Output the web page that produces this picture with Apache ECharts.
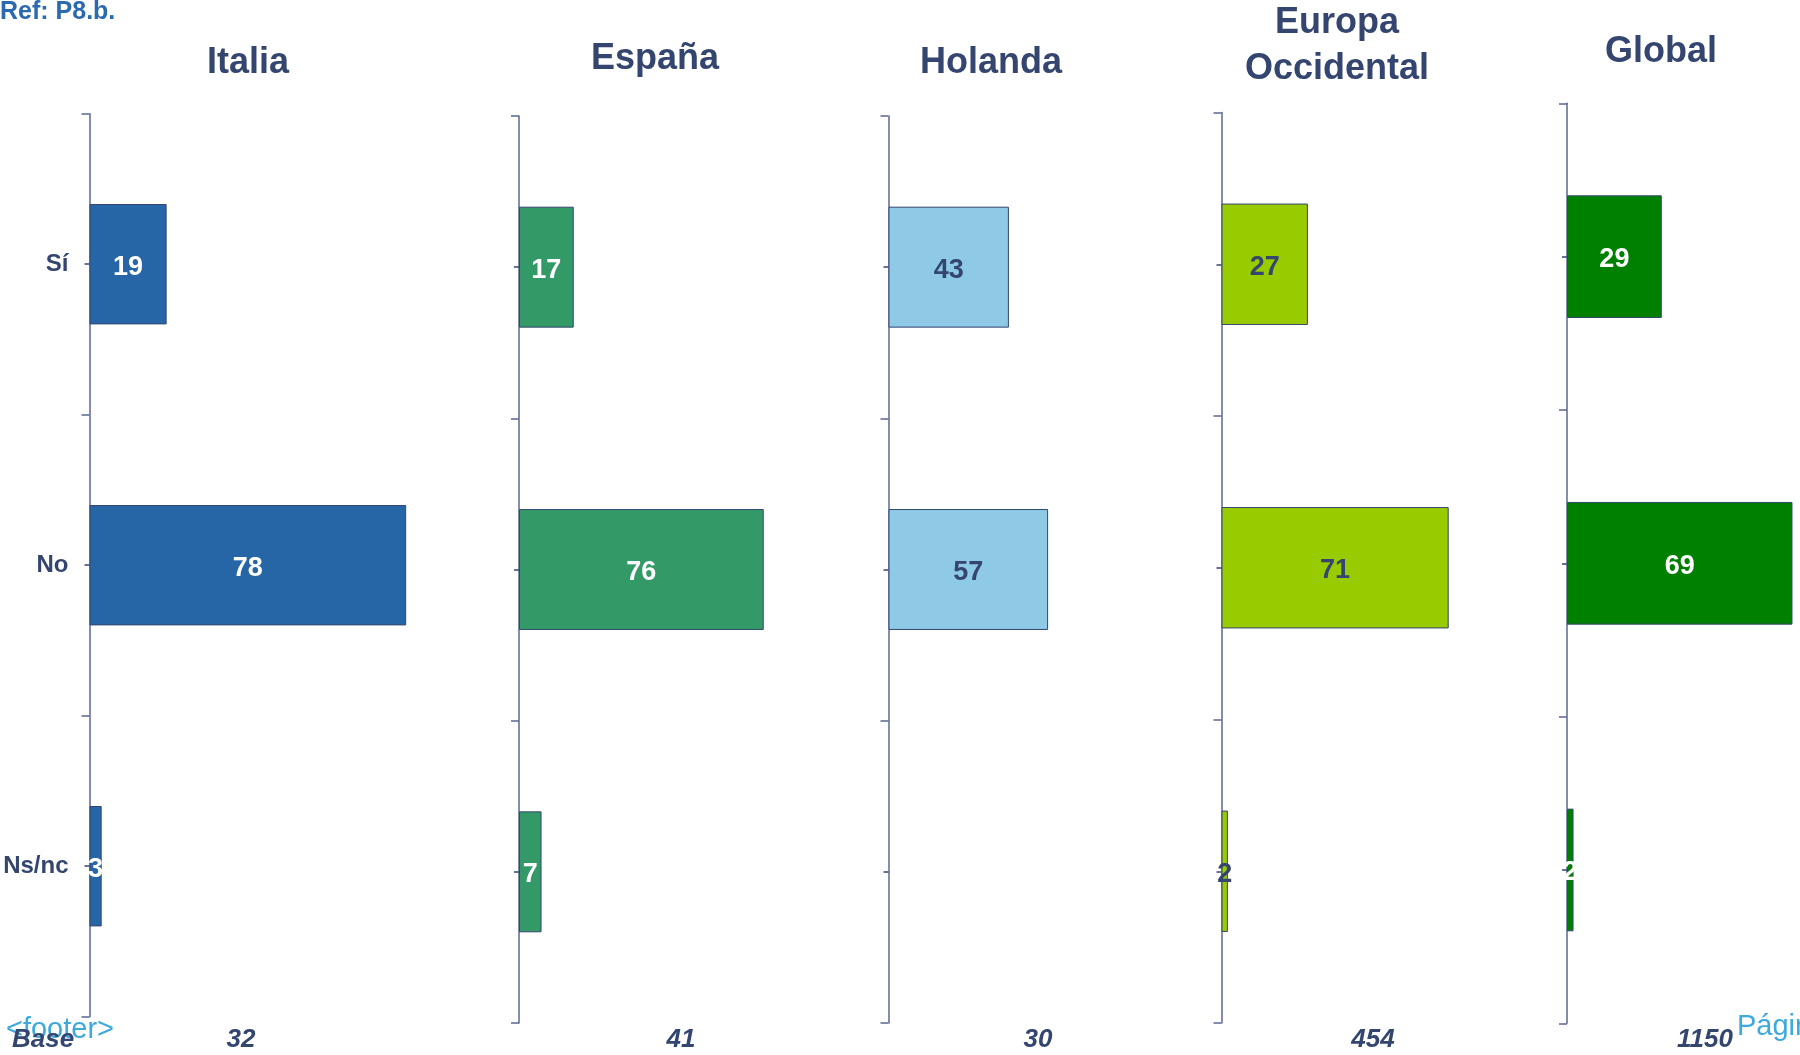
<!DOCTYPE html>
<html>
<head>
<meta charset="utf-8">
<script src="https://cdn.jsdelivr.net/npm/echarts@6/dist/echarts.min.js"></script>
<style>
  html, body { margin: 0; padding: 0; background: #fff; }
  #chart { width: 1800px; height: 1055px; }
</style>
</head>
<body>
<div id="chart"></div>
<script>
// data
var categories = ['Sí', 'No', 'Ns/nc'];
var panelNames = ['Italia', 'España', 'Holanda', 'Europa\nOccidental', 'Global'];
var italia = [19, 78, 3];
var espana = [17, 76, 7];
var holanda = [43, 57, 0];
var europa = [27, 71, 2];
var global = [29, 69, 2];
var bases = ['32', '41', '30', '454', '1150'];

var seriesData = [italia, espana, holanda, europa, global];
var colors = ['#2766A6', '#339966', '#8ECAE6', '#99CC00', '#008000'];
var labelColors = ['#fff', '#fff', '#34466F', '#34466F', '#fff'];

// layout of each small chart (px); the last one runs off the page,
// so its axis max is scaled to the visible part
var grids = [
  { left: 89.5, top: 113.7, width: 406, height: 903, max: 100 },
  { left: 519, top: 116, width: 322, height: 907, max: 100 },
  { left: 888.5, top: 116, width: 280, height: 907, max: 100 },
  { left: 1221.5, top: 112.5, width: 320, height: 910.5, max: 100 },
  { left: 1567, top: 103.3, width: 233, height: 920, max: 71.3 }
];
var titlePos = [[248, 63], [655, 59], [991, 63], [1337, 46], [1661, 52]];
var basePos = [241, 681, 1038, 1373, 1705];

var navy = '#34466F';
var font = 'Liberation Sans, Arial, sans-serif';

var myChart = echarts.init(document.getElementById('chart'));

var option = {
  backgroundColor: '#fff',
  animation: false,
  grid: [],
  xAxis: [],
  yAxis: [],
  series: [],
  graphic: []
};

grids.forEach(function(g, i) {
  option.grid.push({ left: g.left, top: g.top, width: g.width, height: g.height, containLabel: false });
  option.xAxis.push({
    type: 'value', gridIndex: i, min: 0, max: g.max, show: false
  });
  // main axis with boundary ticks
  option.yAxis.push({
    type: 'category',
    gridIndex: i,
    position: 'left',
    inverse: true,
    data: categories,
    axisLine: { show: true, lineStyle: { color: '#5B6890', width: 1.5 } },
    axisTick: { show: true, length: 8, lineStyle: { color: '#5B6890', width: 1.5 } },
    axisLabel: {
      show: i === 0,
      margin: 21,
      color: navy,
      fontFamily: font,
      fontWeight: 'bold',
      fontSize: 24,
      padding: [4, 0, 0, 0]
    },
    splitLine: { show: false }
  });
  // second axis only for the small ticks at category centers
  option.yAxis.push({
    type: 'category',
    gridIndex: i,
    position: 'left',
    inverse: true,
    data: categories,
    axisLine: { show: false },
    axisTick: { show: true, alignWithLabel: true, length: 5, lineStyle: { color: navy, width: 1.5 } },
    axisLabel: { show: false },
    splitLine: { show: false }
  });
  option.series.push({
    type: 'bar',
    xAxisIndex: i,
    yAxisIndex: i * 2,
    barWidth: '40%',
    data: seriesData[i].map(function(v) {
      return v === 0 ? { value: 0, itemStyle: { borderWidth: 0 } } : v;
    }),
    itemStyle: { color: colors[i], borderColor: navy, borderWidth: 1 },
    label: {
      show: true,
      position: 'inside',
      offset: [0, 3],
      color: labelColors[i],
      fontFamily: font,
      fontWeight: 'bold',
      fontSize: 27,
      formatter: function(p) { return p.value === 0 ? '' : p.value; }
    }
  });

  option.graphic.push({
    type: 'text',
    x: titlePos[i][0],
    y: titlePos[i][1],
    style: {
      text: panelNames[i],
      fill: navy,
      font: 'bold 36px ' + font,
      align: 'center',
      verticalAlign: 'middle',
      lineHeight: 46
    }
  });
  option.graphic.push({
    type: 'text',
    x: basePos[i],
    y: 1040,
    style: {
      text: bases[i],
      fill: navy,
      font: 'italic bold 26px ' + font,
      align: 'center',
      verticalAlign: 'middle'
    }
  });
});

option.graphic.push(
  {
    type: 'text', x: 0, y: 12,
    style: { text: 'Ref: P8.b.', fill: '#2B6AAE', font: 'bold 25px ' + font, align: 'left', verticalAlign: 'middle' }
  },
  {
    type: 'text', x: 6, y: 1030, z: 1,
    style: { text: '<footer>', fill: '#3DA9DD', font: '29px ' + font, align: 'left', verticalAlign: 'middle' }
  },
  {
    type: 'text', x: 12, y: 1040, z: 2,
    style: { text: 'Base', fill: navy, font: 'italic bold 26px ' + font, align: 'left', verticalAlign: 'middle' }
  },
  {
    type: 'text', x: 1737, y: 1027,
    style: { text: 'Página', fill: '#3DA9DD', font: '29px ' + font, align: 'left', verticalAlign: 'middle' }
  }
);

myChart.setOption(option);
</script>
</body>
</html>
